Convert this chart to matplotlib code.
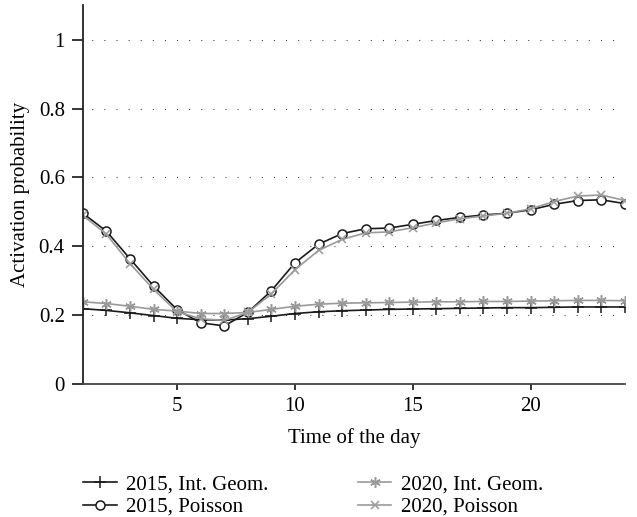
import numpy as np
import matplotlib
matplotlib.use('Agg')
import matplotlib.pyplot as plt

plt.rcParams['font.family'] = ['Liberation Serif', 'DejaVu Serif']
plt.rcParams['font.size'] = 15

# Dane
hours = np.arange(1, 25)
geom_2015 = [0.219, 0.214, 0.207, 0.199, 0.191, 0.187, 0.186, 0.190, 0.197, 0.205, 0.210, 0.213,
             0.215, 0.217, 0.218, 0.219, 0.220, 0.221, 0.222, 0.222, 0.223, 0.224, 0.224, 0.224]
poisson_2015 = [0.496, 0.444, 0.364, 0.285, 0.216, 0.178, 0.169, 0.208, 0.271, 0.352, 0.406, 0.437,
                0.451, 0.453, 0.464, 0.475, 0.484, 0.491, 0.496, 0.506, 0.522, 0.533, 0.535, 0.524]
geom_2020 = [0.239, 0.234, 0.226, 0.217, 0.212, 0.205, 0.205, 0.208, 0.217, 0.226, 0.232, 0.235,
             0.236, 0.237, 0.238, 0.239, 0.239, 0.240, 0.240, 0.241, 0.242, 0.243, 0.243, 0.242]
poisson_2020 = [0.490, 0.435, 0.350, 0.275, 0.210, 0.190, 0.185, 0.208, 0.262, 0.332, 0.388, 0.420,
                0.439, 0.442, 0.454, 0.468, 0.480, 0.488, 0.496, 0.509, 0.530, 0.546, 0.549, 0.533]
yticks = [0, 0.2, 0.4, 0.6, 0.8, 1]
ytick_labels = ['0', '0.2', '0.4', '0.6', '0.8', '1']

black = '#1a1a1a'
gray = '#9a9a9a'

fig = plt.figure(figsize=(6.37, 5.17), dpi=100)
ax = fig.add_axes([0.130, 0.257, 0.851, 0.733])

ax.plot(hours, geom_2015, color=black, lw=1.2, marker='+', ms=8, mew=1.1,
        label='2015, Int. Geom.')
ax.plot(hours, poisson_2015, color=black, lw=1.2, marker='o', ms=6.5, mfc='white', mec=black,
        mew=1.1, label='2015, Poisson')
ax.plot(hours, geom_2020, color=gray, lw=1.2, marker=(6, 2, 0), ms=7.5, mew=1.1,
        label='2020, Int. Geom.')
ax.plot(hours, poisson_2020, color=gray, lw=1.2, marker='x', ms=5.5, mew=1.1,
        label='2020, Poisson')

ax.set_xlim(1, 24)
ax.set_ylim(0, 1.1)
ax.set_xticks([5, 10, 15, 20])
ax.set_yticks(yticks)
ax.set_yticklabels(ytick_labels)

# siatka kropkowana tylko dla y > 0
for y in yticks[1:]:
    ax.axhline(y, color='#333333', lw=0.8, ls=(3, (0.9, 10)), zorder=0)

for s in ['top', 'right']:
    ax.spines[s].set_visible(False)
ax.spines['left'].set_linewidth(1.3)
ax.spines['left'].set_color('#222222')
ax.spines['bottom'].set_linewidth(1.3)
ax.spines['bottom'].set_color('#444444')
ax.tick_params(axis='y', direction='out', length=8, width=1.1, pad=5)
ax.tick_params(axis='x', direction='out', length=4, width=1.1, pad=5)

ax.set_xlabel('Time of the day', labelpad=9)
ax.set_ylabel('Activation probability', labelpad=6)

handles, labels = ax.get_legend_handles_labels()
fig.legend(handles, labels, ncol=2, frameon=False, loc='upper left',
           bbox_to_anchor=(0.108, 0.11), handlelength=1.6, handletextpad=0.45,
           columnspacing=4.3, labelspacing=0.15, borderpad=0.2)

plt.savefig('out.png', dpi=100)
